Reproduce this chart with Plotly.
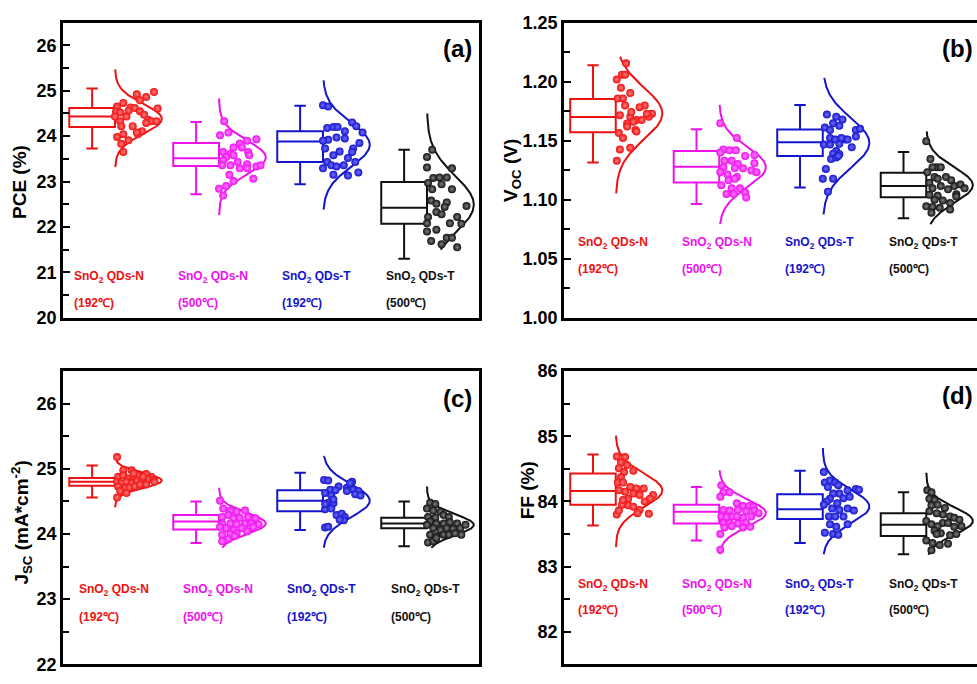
import numpy as np
import plotly.graph_objects as go

# ---------------- categories / labels ----------------
group_names = ["SnO<sub>2</sub> QDs-N", "SnO<sub>2</sub> QDs-N", "SnO<sub>2</sub> QDs-T", "SnO<sub>2</sub> QDs-T"]
group_temps = ["(192℃)", "(500℃)", "(192℃)", "(500℃)"]
colors = ["#ee1111", "#ee11ee", "#1414cc", "#111111"]
highlight = ["#ff7a7a", "#ff80ff", "#7070ff", "#808080"]
positions = [1, 2, 3, 4]

# ---------------- PCE (%) ----------------
pce_hi = [25.05, 24.31, 24.67, 23.70]
pce_q3 = [24.62, 23.85, 24.11, 22.99]
pce_med = [24.43, 23.51, 23.88, 22.42]
pce_q1 = [24.20, 23.34, 23.43, 22.07]
pce_lo = [23.73, 22.72, 22.94, 21.30]
pce_mean = [24.38, 23.53, 23.81, 22.49]
pce_sd = [0.33, 0.37, 0.48, 0.63]
pce_clo = [23.32, 22.26, 22.38, 21.50]
pce_chi = [25.47, 24.83, 25.23, 24.50]
pce_y1 = [24.97, 24.92, 24.86, 24.79, 24.73, 24.65, 24.63, 24.54, 24.52, 24.56, 24.62, 24.55, 24.61, 24.47, 24.36, 24.33, 24.33, 24.33, 24.43, 24.22, 24.22, 24.04, 23.98, 24.04, 23.91, 23.83, 23.65, 24.43, 24.29, 24.11, 24.08]
pce_dx1 = [0.375, 0.21, 0.30, 0.24, 0.08, 0.02, 0.15, 0.01, 0.05, 0.13, 0.19, 0.24, 0.41, 0.28, 0.32, 0.35, 0.40, 0.05, 0.11, 0.17, 0.06, 0.22, 0.02, 0.08, 0.13, 0.06, 0.08, 0.0, 0.30, 0.26, 0.21]
pce_y2 = [24.33, 24.02, 24.08, 23.93, 23.90, 23.84, 23.75, 23.75, 23.65, 23.65, 23.61, 23.54, 23.58, 23.58, 23.47, 23.43, 23.38, 23.33, 23.36, 23.36, 23.36, 23.29, 23.29, 23.15, 22.84, 22.90, 23.01, 23.06, 22.69]
pce_dx2 = [0.05, 0.01, 0.09, 0.36, 0.27, 0.20, 0.14, 0.22, 0.28, 0.04, 0.11, 0.07, 0.14, 0.29, 0.04, 0.18, 0.27, 0.36, 0.40, 0.03, 0.11, 0.20, 0.27, 0.10, 0.0, 0.07, 0.14, 0.33, 0.04]
pce_y3 = [24.68, 24.65, 24.18, 24.20, 24.20, 24.11, 24.30, 24.22, 24.08, 23.92, 23.97, 23.95, 23.90, 23.85, 23.73, 23.73, 23.58, 23.66, 23.52, 23.43, 23.43, 23.36, 23.33, 23.36, 23.15, 23.13, 23.20, 23.29, 23.65]
pce_dx3 = [0.0, 0.05, 0.04, 0.10, 0.14, 0.21, 0.28, 0.32, 0.38, 0.05, 0.13, 0.21, 0.0, 0.35, 0.29, 0.02, 0.10, 0.16, 0.24, 0.31, 0.04, 0.08, 0.13, 0.20, 0.10, 0.24, 0.34, 0.0, 0.28]
pce_y4 = [23.70, 23.54, 23.31, 23.08, 23.09, 23.09, 23.29, 22.97, 22.94, 22.83, 22.83, 22.58, 22.54, 22.44, 22.33, 22.28, 22.22, 22.46, 22.22, 22.08, 22.07, 21.90, 21.94, 21.76, 21.76, 21.69, 21.62, 21.55, 22.08, 22.51]
pce_dx4 = [0.05, 0.0, 0.0, 0.06, 0.12, 0.19, 0.24, 0.01, 0.14, 0.05, 0.24, 0.04, 0.19, 0.17, 0.09, 0.14, 0.01, 0.38, 0.29, 0.22, 0.33, 0.0, 0.09, 0.19, 0.24, 0.04, 0.14, 0.29, 0.0, 0.09]

# ---------------- Voc (V) ----------------
voc_hi = [1.2139, 1.1597, 1.1803, 1.1404]
voc_q3 = [1.1853, 1.1412, 1.1594, 1.1228]
voc_med = [1.1701, 1.1280, 1.1487, 1.1115]
voc_q1 = [1.1572, 1.1145, 1.1371, 1.1021]
voc_lo = [1.1316, 1.0964, 1.1104, 1.0842]
voc_mean = [1.173, 1.1275, 1.1481, 1.1123]
voc_sd = [0.022, 0.017, 0.021, 0.015]
voc_clo = [1.1054, 1.0793, 1.0876, 1.0793]
voc_chi = [1.2211, 1.1803, 1.2032, 1.1578]
voc_y1 = [1.2156, 1.2018, 1.2059, 1.2059, 1.1949, 1.1903, 1.1858, 1.1858, 1.1798, 1.1798, 1.1784, 1.1729, 1.1715, 1.1702, 1.1674, 1.1702, 1.1660, 1.1674, 1.1646, 1.1591, 1.1564, 1.1523, 1.1440, 1.1426, 1.1330, 1.1729, 1.1743, 1.1619, 1.1578]
voc_dx1 = [0.10, 0.01, 0.06, 0.09, 0.05, 0.14, 0.02, 0.07, 0.09, 0.28, 0.23, 0.35, 0.04, 0.14, 0.20, 0.32, 0.17, 0.25, 0.11, 0.19, 0.03, 0.07, 0.14, 0.04, 0.01, 0.30, 0.15, 0.11, 0.20]
voc_y2 = [1.1647, 1.1523, 1.1426, 1.1418, 1.1418, 1.1371, 1.1379, 1.1399, 1.1330, 1.1330, 1.1302, 1.1275, 1.1269, 1.1267, 1.1247, 1.1233, 1.1233, 1.1214, 1.1192, 1.1165, 1.1178, 1.1123, 1.1096, 1.1096, 1.1060, 1.1049, 1.1049, 1.1019, 1.1308]
voc_dx2 = [0.01, 0.17, 0.04, 0.10, 0.16, 0.25, 0.34, 0.01, 0.05, 0.12, 0.18, 0.04, 0.15, 0.23, 0.31, 0.36, 0.01, 0.08, 0.17, 0.09, 0.15, 0.02, 0.12, 0.20, 0.25, 0.07, 0.14, 0.26, 0.34]
voc_y3 = [1.1721, 1.1702, 1.1680, 1.1647, 1.1627, 1.1611, 1.1591, 1.1591, 1.1600, 1.1523, 1.1509, 1.1509, 1.1509, 1.1536, 1.1473, 1.1445, 1.1467, 1.1412, 1.1390, 1.1385, 1.1344, 1.1357, 1.1371, 1.1261, 1.1178, 1.1178, 1.1068, 1.1523, 1.1467]
voc_dx3 = [0.04, 0.13, 0.19, 0.10, 0.16, 0.02, 0.07, 0.32, 0.36, 0.07, 0.12, 0.22, 0.24, 0.32, 0.16, 0.28, 0.01, 0.13, 0.10, 0.16, 0.08, 0.13, 0.15, 0.03, 0.0, 0.10, 0.05, 0.18, 0.07]
voc_y4 = [1.1495, 1.1344, 1.1275, 1.1275, 1.1275, 1.1233, 1.1192, 1.1192, 1.1178, 1.1165, 1.1143, 1.1115, 1.1115, 1.1129, 1.1096, 1.1088, 1.1041, 1.1033, 1.1046, 1.1096, 1.0999, 1.0994, 1.0972, 1.0944, 1.0939, 1.0931, 1.0889, 1.0917, 1.1027]
voc_dx4 = [0.0, 0.04, 0.10, 0.06, 0.14, 0.01, 0.08, 0.19, 0.11, 0.24, 0.03, 0.14, 0.27, 0.33, 0.06, 0.21, 0.03, 0.11, 0.29, 0.37, 0.08, 0.16, 0.23, 0.0, 0.06, 0.13, 0.05, 0.23, 0.29]

# ---------------- Jsc (mA cm-2) ----------------
jsc_hi = [25.05, 24.50, 24.94, 24.50]
jsc_q3 = [24.86, 24.29, 24.67, 24.25]
jsc_med = [24.80, 24.19, 24.51, 24.16]
jsc_q1 = [24.74, 24.07, 24.35, 24.09]
jsc_lo = [24.56, 23.86, 24.06, 23.81]
jsc_mean = [24.82, 24.16, 24.51, 24.14]
jsc_sd = [0.115, 0.16, 0.25, 0.16]
jsc_clo = [24.41, 23.79, 23.79, 23.79]
jsc_chi = [25.18, 24.71, 25.20, 24.73]
jsc_y1 = [25.18, 24.98, 24.98, 24.88, 24.90, 24.85, 24.88, 24.90, 24.92, 24.88, 24.80, 24.78, 24.80, 24.78, 24.82, 24.83, 24.84, 24.83, 24.73, 24.71, 24.71, 24.73, 24.76, 24.76, 24.66, 24.63, 24.56, 24.93, 24.88, 24.80]
jsc_dx1 = [0.02, 0.08, 0.16, 0.03, 0.08, 0.13, 0.18, 0.22, 0.30, 0.35, 0.02, 0.06, 0.11, 0.16, 0.21, 0.26, 0.32, 0.37, 0.03, 0.10, 0.14, 0.19, 0.24, 0.30, 0.05, 0.11, 0.02, 0.18, 0.27, 0.38]
jsc_y2 = [24.51, 24.39, 24.36, 24.26, 24.29, 24.34, 24.36, 24.24, 24.25, 24.26, 24.24, 24.16, 24.16, 24.15, 24.16, 24.16, 24.15, 24.09, 24.06, 24.09, 24.09, 23.99, 24.00, 24.01, 24.04, 23.92, 23.97, 23.89, 24.11, 24.11]
jsc_dx2 = [0.01, 0.04, 0.11, 0.03, 0.09, 0.17, 0.25, 0.14, 0.20, 0.28, 0.35, 0.03, 0.11, 0.17, 0.25, 0.31, 0.38, 0.07, 0.14, 0.22, 0.30, 0.03, 0.11, 0.17, 0.27, 0.09, 0.15, 0.03, 0.01, 0.33]
jsc_y3 = [24.83, 24.82, 24.80, 24.73, 24.71, 24.68, 24.68, 24.67, 24.63, 24.66, 24.59, 24.61, 24.59, 24.48, 24.47, 24.38, 24.39, 24.29, 24.31, 24.26, 24.21, 24.22, 24.10, 24.11, 24.78, 24.66, 24.53, 24.46]
jsc_dx3 = [0.01, 0.05, 0.28, 0.15, 0.23, 0.29, 0.07, 0.12, 0.02, 0.34, 0.08, 0.31, 0.36, 0.05, 0.10, 0.02, 0.08, 0.13, 0.18, 0.21, 0.20, 0.16, 0.02, 0.05, 0.26, 0.23, 0.10, 0.02]
jsc_y4 = [24.48, 24.46, 24.39, 24.36, 24.34, 24.26, 24.25, 24.29, 24.26, 24.19, 24.16, 24.16, 24.18, 24.16, 24.09, 24.09, 24.06, 24.09, 24.08, 23.99, 23.99, 23.97, 23.99, 23.87, 23.89, 23.94, 24.14, 24.14, 23.99, 24.01]
jsc_dx4 = [0.03, 0.08, 0.0, 0.06, 0.13, 0.01, 0.08, 0.16, 0.21, 0.03, 0.09, 0.16, 0.22, 0.29, 0.32, 0.06, 0.13, 0.19, 0.25, 0.33, 0.03, 0.09, 0.16, 0.01, 0.06, 0.09, 0.37, 0.0, 0.21, 0.27]

# ---------------- FF (%) ----------------
ff_hi = [84.72, 84.22, 84.47, 84.14]
ff_q3 = [84.43, 83.95, 84.11, 83.82]
ff_med = [84.16, 83.84, 83.88, 83.64]
ff_q1 = [83.95, 83.66, 83.73, 83.47]
ff_lo = [83.63, 83.40, 83.36, 83.19]
ff_mean = [84.17, 83.82, 83.92, 83.70]
ff_sd = [0.26, 0.21, 0.26, 0.21]
ff_clo = [83.30, 83.19, 83.19, 83.18]
ff_chi = [85.01, 84.48, 84.82, 84.44]
ff_y1 = [84.69, 84.68, 84.60, 84.56, 84.51, 84.47, 84.45, 84.37, 84.29, 84.29, 84.22, 84.20, 84.20, 84.17, 84.15, 84.10, 84.12, 84.10, 84.04, 84.04, 83.95, 83.94, 83.92, 84.00, 83.87, 83.82, 83.80, 83.81, 83.86, 84.02]
ff_dx1 = [0.01, 0.09, 0.05, 0.11, 0.03, 0.17, 0.08, 0.05, 0.02, 0.07, 0.14, 0.20, 0.27, 0.03, 0.09, 0.36, 0.17, 0.23, 0.33, 0.12, 0.06, 0.12, 0.17, 0.28, 0.23, 0.21, 0.01, 0.32, 0.03, 0.07]
ff_y2 = [84.25, 84.14, 84.14, 84.07, 83.97, 83.93, 83.93, 83.92, 83.87, 83.86, 83.87, 83.85, 83.86, 83.82, 83.77, 83.76, 83.77, 83.75, 83.77, 83.67, 83.67, 83.66, 83.67, 83.61, 83.60, 83.62, 83.50, 83.26, 83.77, 83.60]
ff_dx2 = [0.02, 0.04, 0.10, 0.01, 0.17, 0.23, 0.29, 0.33, 0.04, 0.10, 0.18, 0.26, 0.34, 0.38, 0.02, 0.07, 0.13, 0.23, 0.31, 0.04, 0.10, 0.18, 0.26, 0.30, 0.05, 0.12, 0.01, 0.01, 0.17, 0.23]
ff_y3 = [84.45, 84.29, 84.32, 84.29, 84.25, 84.22, 84.19, 84.18, 84.17, 84.12, 84.12, 84.04, 84.05, 84.07, 84.00, 83.97, 83.95, 83.89, 83.87, 83.89, 83.86, 83.77, 83.77, 83.77, 83.65, 83.61, 83.65, 83.52, 83.50, 83.49]
ff_dx3 = [0.01, 0.02, 0.07, 0.12, 0.15, 0.05, 0.32, 0.35, 0.24, 0.16, 0.10, 0.07, 0.20, 0.26, 0.04, 0.14, 0.01, 0.09, 0.16, 0.24, 0.30, 0.06, 0.12, 0.20, 0.07, 0.13, 0.24, 0.02, 0.10, 0.15]
ff_y4 = [84.17, 84.14, 84.04, 84.02, 83.94, 83.95, 83.80, 83.77, 83.75, 83.72, 83.85, 83.82, 83.67, 83.67, 83.61, 83.62, 83.70, 83.65, 83.62, 83.55, 83.51, 83.48, 83.40, 83.36, 83.33, 83.35, 83.25, 83.50, 83.50, 83.90]
ff_dx4 = [0.01, 0.05, 0.03, 0.08, 0.05, 0.11, 0.16, 0.23, 0.27, 0.32, 0.03, 0.10, 0.16, 0.21, 0.27, 0.34, 0.0, 0.05, 0.11, 0.08, 0.14, 0.23, 0.0, 0.06, 0.13, 0.21, 0.05, 0.10, 0.29, 0.18]

FONT = "Liberation Sans, Arial, Helvetica, sans-serif"

panels = [
    dict(xa="x", ya="y", hi=pce_hi, q3=pce_q3, med=pce_med, q1=pce_q1, lo=pce_lo,
         mean=pce_mean, sd=pce_sd, clo=pce_clo, chi=pce_chi,
         ys=[pce_y1, pce_y2, pce_y3, pce_y4], dxs=[pce_dx1, pce_dx2, pce_dx3, pce_dx4],
         lab_off=0.41, lab_y=(0.138, 0.049)),
    dict(xa="x2", ya="y2", hi=voc_hi, q3=voc_q3, med=voc_med, q1=voc_q1, lo=voc_lo,
         mean=voc_mean, sd=voc_sd, clo=voc_clo, chi=voc_chi,
         ys=[voc_y1, voc_y2, voc_y3, voc_y4], dxs=[voc_dx1, voc_dx2, voc_dx3, voc_dx4],
         lab_off=0.38, lab_y=(0.253, 0.164)),
    dict(xa="x3", ya="y3", hi=jsc_hi, q3=jsc_q3, med=jsc_med, q1=jsc_q1, lo=jsc_lo,
         mean=jsc_mean, sd=jsc_sd, clo=jsc_clo, chi=jsc_chi,
         ys=[jsc_y1, jsc_y2, jsc_y3, jsc_y4], dxs=[jsc_dx1, jsc_dx2, jsc_dx3, jsc_dx4],
         lab_off=0.365, lab_y=(0.252, 0.162)),
    dict(xa="x4", ya="y4", hi=ff_hi, q3=ff_q3, med=ff_med, q1=ff_q1, lo=ff_lo,
         mean=ff_mean, sd=ff_sd, clo=ff_clo, chi=ff_chi,
         ys=[ff_y1, ff_y2, ff_y3, ff_y4], dxs=[ff_dx1, ff_dx2, ff_dx3, ff_dx4],
         lab_off=0.38, lab_y=(0.271, 0.185)),
]

BOX_W = 0.44
CURVE_AMP = 0.45

fig = go.Figure()
annotations = []

for p in panels:
    for g in range(4):
        pos = positions[g]
        c = colors[g]
        # box (quartiles + whiskers)
        fig.add_trace(go.Box(
            x=[pos - BOX_W / 2], q1=[p["q1"][g]], median=[p["med"][g]], q3=[p["q3"][g]],
            lowerfence=[p["lo"][g]], upperfence=[p["hi"][g]],
            width=BOX_W, whiskerwidth=0.25,
            line=dict(color=c, width=2), fillcolor="rgba(255,255,255,0)",
            xaxis=p["xa"], yaxis=p["ya"], hoverinfo="skip", showlegend=False))
        # normal distribution curve
        yy = np.linspace(p["clo"][g], p["chi"][g], 200)
        xx = pos + CURVE_AMP * np.exp(-(yy - p["mean"][g]) ** 2 / (2 * p["sd"][g] ** 2))
        fig.add_trace(go.Scatter(x=xx, y=yy, mode="lines", line=dict(color=c, width=2),
                                 xaxis=p["xa"], yaxis=p["ya"], hoverinfo="skip", showlegend=False))
        # data points
        fig.add_trace(go.Scatter(
            x=[pos + d for d in p["dxs"][g]], y=p["ys"][g], mode="markers",
            marker=dict(size=8, color=c, line=dict(width=0),
                        gradient=dict(type="radial", color=highlight[g])),
            xaxis=p["xa"], yaxis=p["ya"], hoverinfo="skip", showlegend=False))
        # group labels
        xr = p["xa"]
        yr = p["ya"] + " domain"
        annotations.append(dict(x=pos - p["lab_off"], y=p["lab_y"][0], xref=xr, yref=yr,
                                text=group_names[g], showarrow=False, xanchor="left", yanchor="middle",
                                font=dict(family=FONT, size=12, color=c, weight="bold")))
        annotations.append(dict(x=pos - p["lab_off"], y=p["lab_y"][1], xref=xr, yref=yr,
                                text=group_temps[g], showarrow=False, xanchor="left", yanchor="middle",
                                font=dict(family=FONT, size=12, color=c, weight="bold")))

# axis titles and panel letters
titles = [
    ("PCE (%)", 0.0205, 0.741),
    ("V<sub>OC</sub> (V)", 0.524, 0.759),
    ("J<sub>SC</sub> (mA*cm<sup>-2</sup>)", 0.0225, 0.228),
    ("FF (%)", 0.540, 0.276),
]
for t, x, y in titles:
    annotations.append(dict(x=x, y=y, xref="paper", yref="paper", text=t, textangle=-90,
                            showarrow=False, xanchor="center", yanchor="middle",
                            font=dict(family=FONT, size=19, color="black", weight="bold")))
letters = [("(a)", 0.4685, 0.9415, "center"), ("(b)", 0.998, 0.9415, "right"),
           ("(c)", 0.4685, 0.415, "center"), ("(d)", 0.998, 0.4196, "right")]
for t, x, y, xa in letters:
    annotations.append(dict(x=x, y=y, xref="paper", yref="paper", text=t, showarrow=False,
                            xanchor=xa, yanchor="middle",
                            font=dict(family=FONT, size=24, color="black", weight="bold")))

def xaxis(domain, rng):
    return dict(domain=domain, range=rng, showticklabels=False, ticks="", showgrid=False,
                zeroline=False, showline=True, linewidth=2.5, linecolor="black", mirror=True)

def yaxis(domain, rng, tick0, dtick, minor, fmt, anchor, mirror=True):
    return dict(domain=domain, range=rng, tick0=tick0, dtick=dtick, tickformat=fmt,
                ticks="inside", ticklen=7, tickwidth=2, tickcolor="black",
                minor=dict(tick0=tick0, dtick=minor, ticks="inside", ticklen=6, tickwidth=2,
                           tickcolor="black"),
                showgrid=False, zeroline=False, showline=True, linewidth=2.5, linecolor="black",
                mirror=mirror, anchor=anchor,
                tickfont=dict(family=FONT, size=18, color="black", weight="bold"))

XL = [63 / 977, 479 / 977]
XR = [564 / 977, 1.0]
YT = [(684 - 317) / 684, (684 - 13) / 684]
YB = [(684 - 674) / 684, (684 - 372) / 684]

fig.update_layout(
    width=977, height=684,
    margin=dict(l=0, r=0, t=0, b=0),
    paper_bgcolor="white", plot_bgcolor="white",
    showlegend=False,
    xaxis=dict(**xaxis(XL, [0.5, 4.5]), anchor="y"),
    yaxis=yaxis(YT, [20, 26.5], 20, 1, 0.5, "d", "x"),
    xaxis2=dict(**xaxis(XR, [0.5, 4.49]), anchor="y2"),
    yaxis2=yaxis(YT, [1.0, 1.25], 1.0, 0.05, 0.025, ".2f", "x2", mirror=False),
    xaxis3=dict(**xaxis(XL, [0.5, 4.5]), anchor="y3"),
    yaxis3=yaxis(YB, [22, 26.5], 22, 1, 0.5, "d", "x3"),
    xaxis4=dict(**xaxis(XR, [0.5, 4.49]), anchor="y4"),
    yaxis4=yaxis(YB, [81.5, 86], 82, 1, 0.5, "d", "x4", mirror=False),
    annotations=annotations,
    boxmode="overlay",
)

fig.write_html("out.html")
